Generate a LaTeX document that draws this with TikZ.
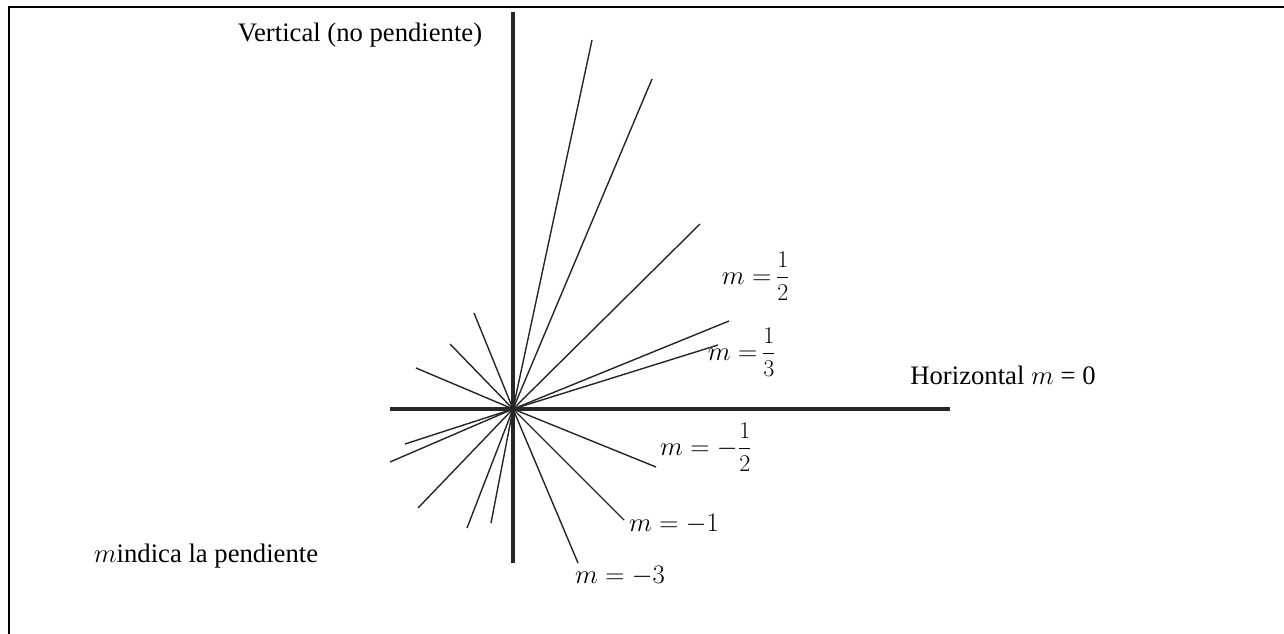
\RequirePackage{fix-cm}
\documentclass[tikz,border=0pt]{standalone}
\usepackage{amsmath}
\usepackage{fontspec}
\setmainfont{Liberation Serif}
\newcommand{\bigfr}[2]{\raisebox{0.5pt}{\fontsize{18}{22}\selectfont$\dfrac{#1}{#2}$}}
\begin{document}
\begin{tikzpicture}[x=0.75pt,y=-0.75pt,
  axis/.style={line width=2.3pt,black!85},
  ray/.style={line width=1.05pt,black!85},
  frameline/.style={line width=1.6pt,black},
  lbl/.style={inner sep=0pt,font=\fontsize{20}{24}\selectfont},
  mlbl/.style={inner sep=0pt,font=\fontsize{20}{24}\selectfont}]
\useasboundingbox (0,0) rectangle (1284,634);
% frame
\coordinate (fa) at (9,634);
\coordinate (fb) at (9,7);
\coordinate (fc) at (1284,7);
\draw[frameline] (fa) -- (fb) -- (fc);
% origin and axes
\coordinate (o) at (513,409);
\coordinate (yt) at (513,12);
\coordinate (yb) at (513,563);
\coordinate (xl) at (390,409);
\coordinate (xr) at (950,409);
\draw[axis] (yt) -- (yb);
\draw[axis] (xl) -- (xr);
% rays endpoints
\coordinate (r1) at (592,40);
\coordinate (r2) at (652,79);
\coordinate (r3) at (700,224);
\coordinate (r4) at (729,321);
\coordinate (r5) at (718,345);
\coordinate (r6) at (656,467);
\coordinate (r7) at (624,520);
\coordinate (r8) at (578,563);
\coordinate (l1) at (474,313);
\coordinate (l2) at (450,344);
\coordinate (l3) at (416,368);
\coordinate (l4) at (405,444);
\coordinate (l5) at (390,462);
\coordinate (l6) at (418,508);
\coordinate (l7) at (467,528);
\coordinate (l8) at (491,523);
\foreach \p in {r1,r2,r3,r4,r5,r6,r7,r8,l1,l2,l3,l4,l5,l6,l7,l8}
  \draw[ray] (o) -- (\p);
% labels
\node[lbl] (vert) at (360,35) {Vertical (no pendiente)};
\node[lbl] (hor) at (1003,375) {Horizontal $m$ = 0};
\node[lbl] (ind) at (206,556) {$m$indica la pendiente};
\node[mlbl] (m12) at (756,276) {$m=$\,\bigfr{1}{2}};
\node[mlbl] (m13) at (742,352) {$m=$\,\bigfr{1}{3}};
\node[mlbl] (mm12) at (706,447) {$m=-$\bigfr{1}{2}};
\node[mlbl] (mm1) at (674,524) {$m=-1$};
\node[mlbl] (mm3) at (620,576) {$m=-3$};
\end{tikzpicture}
\end{document}
